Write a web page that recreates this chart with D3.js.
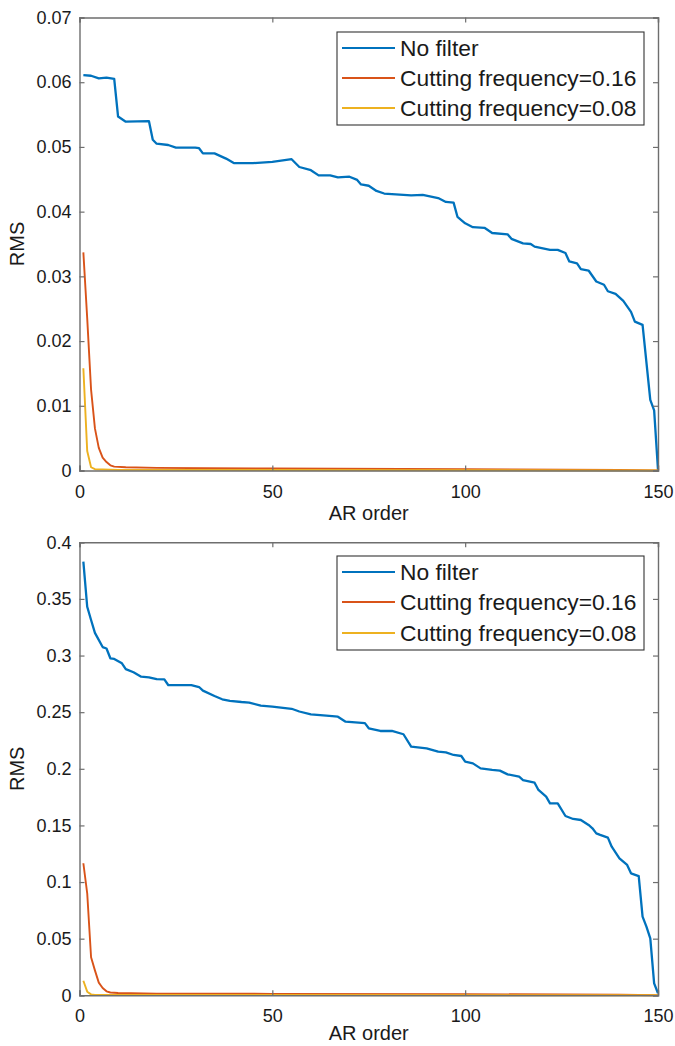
<!DOCTYPE html>
<html>
<head>
<meta charset="utf-8">
<script src="https://cdn.jsdelivr.net/npm/d3@7"></script>
<style>
  html, body { margin: 0; padding: 0; background: #fff; }
  svg text { font-family: "Liberation Sans", Arial, Helvetica, sans-serif; fill: #1a1a1a; }
</style>
</head>
<body>
<svg id="chart" width="675" height="1046"></svg>
<script>
// ---------------- DATA ----------------
const seriesNames = ["No filter", "Cutting frequency=0.16", "Cutting frequency=0.08"];
const xTicks = [0, 50, 100, 150];
const topYTicks = [0, 0.01, 0.02, 0.03, 0.04, 0.05, 0.06, 0.07];
const bottomYTicks = [0, 0.05, 0.1, 0.15, 0.2, 0.25, 0.3, 0.35, 0.4];

// Top panel, "No filter"
const topBlueOrder = [1,3,5,7,9,10,12,18,19,20,23,25,30,31,32,35,38,40,45,50,55,57,60,62,65,67,70,72,73,75,77,79,86,89,93,95,97,98,100,102,105,107,111,112,115,117,118,122,124,126,127,129,130,132,134,136,137,139,141,143,144,146,148,149,150];
const topBlueRMS = [0.0611,0.0610,0.0606,0.0607,0.0605,0.0547,0.0539,0.0540,0.0511,0.0505,0.0503,0.0499,0.0499,0.0498,0.0490,0.0490,0.0482,0.0475,0.0475,0.0477,0.0481,0.0469,0.0464,0.0456,0.0456,0.0453,0.0454,0.0449,0.0442,0.0440,0.0432,0.0428,0.0425,0.0426,0.0421,0.0415,0.0414,0.0392,0.0382,0.0376,0.0375,0.0367,0.0365,0.0358,0.0351,0.0350,0.0346,0.0341,0.0341,0.0336,0.0323,0.0320,0.0311,0.0309,0.0292,0.0287,0.0277,0.0273,0.0262,0.0245,0.0230,0.0225,0.0109,0.0093,0.0001];
// Top panel, cutting frequency 0.16
const topOrangeOrder = [1,2,3,4,5,6,7,8,9,12,20,50,100,140,150];
const topOrangeRMS = [0.0337,0.0235,0.0125,0.0065,0.0035,0.0020,0.0013,0.0008,0.0006,0.0005,0.0004,0.0003,0.0002,0.0001,0.0];
// Top panel, cutting frequency 0.08
const topYellowOrder = [1,2,3,4,10,150];
const topYellowRMS = [0.0158,0.0030,0.0005,0.0002,0.0001,0.0];

// Bottom panel, "No filter"
const botBlueOrder = [1,2,3,4,6,7,8,9,11,12,14,16,18,20,22,23,29,31,32,35,37,39,42,44,47,50,55,57,60,64,67,69,74,75,78,81,84,86,90,93,95,97,99,100,102,104,107,109,111,114,115,118,119,121,122,124,126,128,130,132,133,134,135,137,138,140,142,143,145,146,147,148,149,150];
const botBlueRMS = [0.3829,0.3431,0.3314,0.3200,0.3075,0.3062,0.2976,0.2970,0.2931,0.2880,0.2852,0.2813,0.2808,0.2791,0.2790,0.2740,0.2739,0.2722,0.2690,0.2643,0.2614,0.2600,0.2590,0.2585,0.2557,0.2549,0.2530,0.2506,0.2481,0.2469,0.2460,0.2416,0.2403,0.2358,0.2334,0.2334,0.2305,0.2195,0.2181,0.2151,0.2145,0.2122,0.2113,0.2063,0.2048,0.2004,0.1990,0.1984,0.1951,0.1930,0.1901,0.1877,0.1813,0.1754,0.1695,0.1695,0.1583,0.1557,0.1548,0.1504,0.1475,0.1430,0.1416,0.1392,0.1312,0.1210,0.1151,0.1077,0.1053,0.0694,0.0606,0.0503,0.0106,0.0018];
// Bottom panel, cutting frequency 0.16
const botOrangeOrder = [1,2,3,4,5,6,7,8,10,20,50,100,140,150];
const botOrangeRMS = [0.1166,0.0901,0.0336,0.0220,0.0112,0.0065,0.0035,0.0025,0.0020,0.0015,0.0013,0.0010,0.0005,0.0];
// Bottom panel, cutting frequency 0.08
const botYellowOrder = [1,2,3,4,10,150];
const botYellowRMS = [0.0129,0.0032,0.0008,0.0004,0.0003,0.0];

// ---------------- STYLE ----------------
const colors = ["#0072BD", "#D95319", "#EDB120"];
const widths = [2.3, 1.9, 1.9];
const axisColor = "#6e6e6e";

const svg = d3.select("#chart");

function zip(xs, ys) { return xs.map((x, i) => [x, ys[i]]); }

function panel(cfg) {
  const { left, right, top, bottom, yMax, yTicks, series, legend, xLabelY, tickLabelY } = cfg;
  const x = d3.scaleLinear().domain([0, 150]).range([left, right]);
  const y = d3.scaleLinear().domain([0, yMax]).range([bottom, top]);
  const g = svg.append("g");

  const line = d3.line().x(d => x(d[0])).y(d => y(d[1]));
  series.forEach((s, i) => {
    g.append("path")
      .attr("d", line(s))
      .attr("fill", "none")
      .attr("stroke", colors[i])
      .attr("stroke-width", widths[i])
      .attr("stroke-linejoin", "round");
  });

  const tickLen = 5;
  const fmt = d => d === 0 ? "0" : String(+d.toFixed(3));
  const axL = g.append("g").attr("transform", `translate(${left},0)`)
    .call(d3.axisLeft(y).tickValues(yTicks).tickSize(-tickLen).tickPadding(8).tickFormat(fmt));
  const axR = g.append("g").attr("transform", `translate(${right},0)`)
    .call(d3.axisRight(y).tickValues(yTicks).tickSize(-tickLen).tickFormat(""));
  const axB = g.append("g").attr("transform", `translate(0,${bottom})`)
    .call(d3.axisBottom(x).tickValues(xTicks).tickSize(-tickLen).tickFormat(d3.format("d")));
  const axT = g.append("g").attr("transform", `translate(0,${top})`)
    .call(d3.axisTop(x).tickValues(xTicks).tickSize(-tickLen).tickFormat(""));
  [axL, axR, axB, axT].forEach(a => {
    a.select(".domain").attr("stroke", axisColor).attr("stroke-width", 1.4);
    a.selectAll(".tick line").attr("stroke", axisColor).attr("stroke-width", 1.2);
    a.selectAll("text").attr("font-size", 18).attr("fill", "#1a1a1a")
      .attr("font-family", '"Liberation Sans", Arial, sans-serif');
  });
  axB.selectAll(".tick text").attr("dy", null)
    .attr("y", tickLabelY - bottom).attr("dominant-baseline", "alphabetic");

  g.append("text").attr("x", (left + right) / 2).attr("y", xLabelY)
    .attr("text-anchor", "middle").attr("font-size", 20).text("AR order");
  g.append("text")
    .attr("transform", `translate(24,${(top + bottom) / 2}) rotate(-90)`)
    .attr("text-anchor", "middle").attr("font-size", 20).text("RMS");

  const lg = g.append("g");
  lg.append("rect").attr("x", legend.x0).attr("y", legend.y0)
    .attr("width", legend.x1 - legend.x0).attr("height", legend.y1 - legend.y0)
    .attr("fill", "#fff").attr("stroke", "#333").attr("stroke-width", 1.1);
  seriesNames.forEach((name, i) => {
    const yy = legend.rows[i];
    lg.append("line").attr("x1", legend.x0 + 5).attr("x2", legend.x0 + 58)
      .attr("y1", yy).attr("y2", yy).attr("stroke", colors[i]).attr("stroke-width", 2);
    lg.append("text").attr("x", legend.x0 + 63).attr("y", yy)
      .attr("dy", "0.36em").attr("font-size", 22.8).text(name);
  });
}

panel({
  left: 79.5, right: 658, top: 17.5, bottom: 470.5,
  yMax: 0.07, yTicks: topYTicks,
  series: [zip(topBlueOrder, topBlueRMS), zip(topOrangeOrder, topOrangeRMS), zip(topYellowOrder, topYellowRMS)],
  legend: { x0: 337, y0: 32, x1: 644, y1: 125, rows: [48, 78, 108] },
  xLabelY: 520, tickLabelY: 498
});

panel({
  left: 79.5, right: 658, top: 542.3, bottom: 995.3,
  yMax: 0.4, yTicks: bottomYTicks,
  series: [zip(botBlueOrder, botBlueRMS), zip(botOrangeOrder, botOrangeRMS), zip(botYellowOrder, botYellowRMS)],
  legend: { x0: 337, y0: 556, x1: 644, y1: 650, rows: [572, 602, 633] },
  xLabelY: 1040, tickLabelY: 1022
});
</script>
</body>
</html>
